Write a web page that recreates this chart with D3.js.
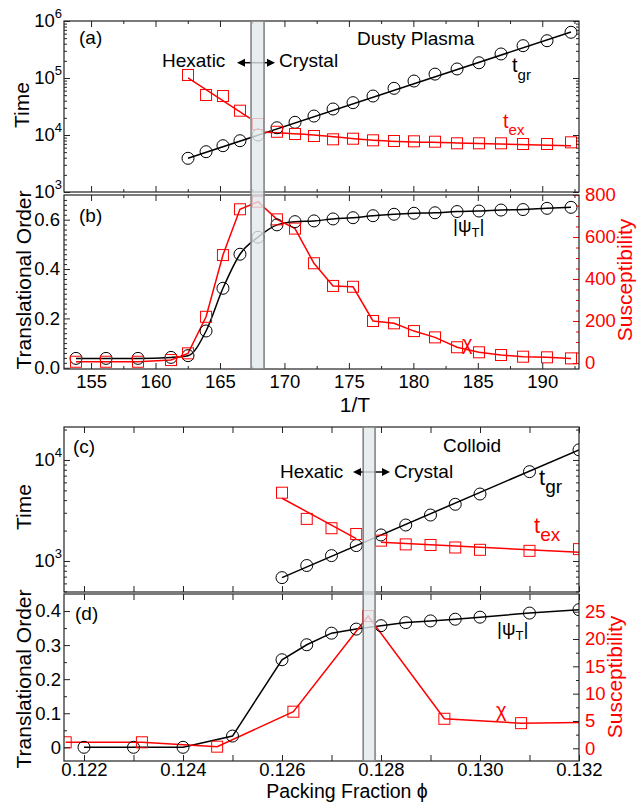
<!DOCTYPE html>
<html><head><meta charset="utf-8">
<script src="https://cdn.jsdelivr.net/npm/d3@7"></script>
<style>
body{margin:0;background:#fff}
svg text{font-family:"Liberation Sans",Arial,Helvetica,sans-serif}
</style>
</head><body>
<svg id="chart" width="638" height="802"></svg>
<script>
// ---------------- DATA ----------------
// Dusty plasma: inverse temperature
const invT = [153.83,156.16,158.64,161.2,162.52,163.92,165.23,166.55,167.95,169.42,170.82,172.29,
              173.77,175.32,176.87,178.5,180.05,181.68,183.39,185.09,186.8,188.51,190.37,192.23];
const invTA = invT.slice(4);
const tgrA = [3900,5090,6490,7940,10000,13400,16700,21500,28600,36900,48300,65900,88500,117000,
              144000,185000,264000,369000,451000,634000];
const texA = [113000,50300,48300,26700,15600,11400,10400,9600,8400,8610,8070,7850,7750,7630,
              7150,7150,7150,6950,6950,7440];
const psiB = [0.038,0.038,0.038,0.042,0.049,0.149,0.322,0.46,0.529,0.579,0.592,0.595,0.603,0.608,
              0.616,0.622,0.626,0.628,0.633,0.635,0.639,0.641,0.646,0.65];
const chiB = [6,6,6,14,46,220,514,732,768,684,640,475,367,363,200,189,152,122,75,51,38,30,27,22];
// fit curves
const tgrFitAx = [162.52,192.23], tgrFitAy = [3900,640000];
const texHexFitAx = [162.52,167.33], texHexFitAy = [101000,19600];
const texCryFitAx = [168.42,172.29,176.87,183.39,192.23], texCryFitAy = [11140,10000,8090,7260,6490];
const bandAB = [167.41,168.42];

// Colloid: packing fraction
const phiC = [0.126,0.1265,0.127,0.1275,0.128,0.1285,0.129,0.1295,0.130,0.131,0.132];
const tgrC = [684,902,1130,1420,1810,2270,2850,3640,4600,7660,12600];
const texC = [4740,2610,2110,1850,1590,1460,1440,1360,1290,1260,1310];
const tgrFitCx = [0.126,0.132], tgrFitCy = [684,12600];
const texHexFitCx = [0.126,0.1275], texHexFitCy = [4180,1667];
const texCryFitCx = [0.128,0.132], texCryFitCy = [1531,1219];
const phiD = [0.122,0.123,0.124,0.125,0.126,0.1265,0.127,0.1275,0.128,0.1285,0.129,0.1295,0.130,0.131,0.132];
const psiD = [0,0,0,0.033,0.257,0.301,0.335,0.347,0.357,0.366,0.371,0.376,0.382,0.394,0.404];
const chiPhiD = [0.12163,0.12317,0.12469,0.12623,0.12774,0.12928,0.13083,0.1335];
const chiD = [1.1,1.1,0.3,6.7,24.2,5.4,4.6,4.9];
const bandCD = [0.12764,0.12788];

// tick labels
const xTicksAB = [155,160,165,170,175,180,185,190];
const xMinorAB = [157.5,162.5,167.5,172.5,177.5,182.5,187.5,192.5];
const yTicksA = [1e3,1e4,1e5,1e6];
const yTicksB = [0,0.2,0.4,0.6];
const yTicksB2 = [0,200,400,600,800];
const yTicksC = [1e3,1e4];
const xTicksCD = [0.122,0.123,0.124,0.125,0.126,0.127,0.128,0.129,0.130,0.131,0.132];
const xLabelsCD = [0.122,0.124,0.126,0.128,0.130,0.132];
const yTicksD = [0,0.1,0.2,0.3,0.4];
const yTicksD2 = [0,5,10,15,20,25];

// ---------------- LAYOUT ----------------
const L = 64, R = 579;
const pA = {t:21,b:192}, pB = {t:195,b:369}, pC = {t:427,b:592}, pD = {t:594,b:761};
const RED = "#ff0000", FS = 18.5;

const svg = d3.select("#chart");
svg.append("rect").attr("width",638).attr("height",802).attr("fill","#fff");

const xAB = d3.scaleLinear().domain([152.9,192.85]).range([L,R]);
const yA = d3.scaleLog().domain([1e3,1e6]).range([pA.b,pA.t]);
const yB = d3.scaleLinear().domain([-0.005,0.7]).range([pB.b,pB.t]);
const yB2 = d3.scaleLinear().domain([0,800]).range([363,195]);
const xCD = d3.scaleLinear().domain([0.121596,0.132]).range([L,R]);
const yC = d3.scaleLog().domain([493,21200]).range([pC.b,pC.t]);
const yD = d3.scaleLinear().domain([-0.0402,0.45]).range([pD.b,pD.t]);
const yD2 = d3.scaleLinear().domain([0,25]).range([748.3,611.7]);

const defs = svg.append("defs");
[["cA",pA],["cB",pB],["cC",pC],["cD",pD]].forEach(([id,p])=>{
  defs.append("clipPath").attr("id",id).append("rect")
    .attr("x",L).attr("y",p.t-8).attr("width",R-L).attr("height",p.b-p.t+16);
});

function logMinor(dom){
  const out=[];
  for(let k=Math.floor(Math.log10(dom[0]));k<=Math.ceil(Math.log10(dom[1]));k++)
    for(let m=2;m<=9;m++){const v=m*Math.pow(10,k); if(v>=dom[0]&&v<=dom[1]) out.push(v);}
  return out;
}
function range(a,b,s){const o=[];for(let v=a;v<=b+1e-9;v+=s)o.push(+v.toFixed(6));return o;}

function ticks(axisFn, scale, vals, size, y0, x0, color){
  const g = svg.append("g").attr("transform",`translate(${x0||0},${y0||0})`)
    .call(axisFn(scale).tickValues(vals).tickSize(-size).tickFormat(""));
  g.select(".domain").remove();
  g.selectAll("line").attr("stroke",color||"#222").attr("stroke-width",1);
  return g;
}
function labels(axisFn, scale, vals, fmt, y0, x0, pad, color){
  const g = svg.append("g").attr("transform",`translate(${x0||0},${y0||0})`)
    .call(axisFn(scale).tickValues(vals).tickSize(0).tickPadding(pad).tickFormat(fmt));
  g.select(".domain").remove();
  g.selectAll("text").attr("font-size",FS).attr("fill",color||"#000")
    .style("font-family",'"Liberation Sans",Arial,sans-serif');
  return g;
}
function frame(p){
  svg.append("rect").attr("x",L).attr("y",p.t).attr("width",R-L).attr("height",p.b-p.t)
    .attr("fill","none").attr("stroke","#222").attr("stroke-width",1.2);
}
function logLabels(scale, vals){
  vals.forEach(v=>{
    const t = svg.append("text").attr("x",62).attr("y",scale(v)).attr("dy","0.35em")
      .attr("text-anchor","end").attr("font-size",FS);
    t.append("tspan").text("10");
    t.append("tspan").attr("font-size",13).attr("dy",-9).text(Math.round(Math.log10(v)));
  });
}
function circles(g, xs, ys, xs_, ys_){
  g.selectAll(null).data(xs.map((x,i)=>[x,ys[i]])).enter().append("circle")
    .attr("cx",d=>xs_(d[0])).attr("cy",d=>ys_(d[1])).attr("r",6)
    .attr("fill","none").attr("stroke","#000").attr("stroke-width",1);
}
function squares(g, xs, ys, xs_, ys_){
  g.selectAll(null).data(xs.map((x,i)=>[x,ys[i]]).filter(d=>d[0]<=xs_.domain()[1]))
    .enter().append("rect")
    .attr("x",d=>xs_(d[0])-5.5).attr("y",d=>ys_(d[1])-5.5).attr("width",11).attr("height",11)
    .attr("fill","none").attr("stroke",RED).attr("stroke-width",1);
}
function line(g, xs, ys, xs_, ys_, color, curve){
  const ln = d3.line().x(d=>xs_(d[0])).y(d=>ys_(d[1])).curve(curve||d3.curveLinear);
  g.append("path").attr("d",ln(xs.map((x,i)=>[x,ys[i]])))
    .attr("fill","none").attr("stroke",color).attr("stroke-width",1.5);
}

// ---------------- PANEL A ----------------
const gA = svg.append("g").attr("clip-path","url(#cA)");
line(gA, tgrFitAx, tgrFitAy, xAB, yA, "#000");
line(gA, texHexFitAx, texHexFitAy, xAB, yA, RED);
line(gA, texCryFitAx, texCryFitAy, xAB, yA, RED, d3.curveMonotoneX);
circles(gA, invTA, tgrA, xAB, yA);
squares(gA, invTA, texA, xAB, yA);

// ---------------- PANEL B ----------------
const gB = svg.append("g").attr("clip-path","url(#cB)");
line(gB, invT, psiB, xAB, yB, "#000", d3.curveMonotoneX);
line(gB, invT, chiB, xAB, yB2, RED);
circles(gB, invT, psiB, xAB, yB);
squares(gB, invT, chiB, xAB, yB2);

// ---------------- PANEL C ----------------
const gC = svg.append("g").attr("clip-path","url(#cC)");
line(gC, tgrFitCx, tgrFitCy, xCD, yC, "#000");
line(gC, texHexFitCx, texHexFitCy, xCD, yC, RED);
line(gC, texCryFitCx, texCryFitCy, xCD, yC, RED);
circles(gC, phiC, tgrC, xCD, yC);
squares(gC, phiC, texC, xCD, yC);

// ---------------- PANEL D ----------------
const gD = svg.append("g").attr("clip-path","url(#cD)");
line(gD, phiD, psiD, xCD, yD, "#000");
line(gD, chiPhiD, chiD, xCD, yD2, RED);
circles(gD, phiD, psiD, xCD, yD);
squares(gD, chiPhiD, chiD, xCD, yD2);

// arrows (drawn before band so band overlays them)
function dblArrow(x1,x2,y){
  svg.append("line").attr("x1",x1+5).attr("x2",x2-5).attr("y1",y).attr("y2",y)
    .attr("stroke","#000").attr("stroke-width",1.5);
  svg.append("path").attr("d",`M${x1},${y}L${x1+8},${y-4}L${x1+8},${y+4}Z`).attr("fill","#000");
  svg.append("path").attr("d",`M${x2},${y}L${x2-8},${y-4}L${x2-8},${y+4}Z`).attr("fill","#000");
}
dblArrow(237,275,62.7);
dblArrow(353,390,472);

// ---------------- AXES ----------------
[pA,pB].forEach(p=>{
  ticks(d3.axisBottom, xAB, xTicksAB, 6, p.b);
  ticks(d3.axisBottom, xAB, xMinorAB, 3, p.b);
  ticks(d3.axisTop, xAB, xTicksAB, 6, p.t);
  ticks(d3.axisTop, xAB, xMinorAB, 3, p.t);
});
labels(d3.axisBottom, xAB, xTicksAB, d3.format("d"), pB.b, 0, 6);

// A y
ticks(d3.axisLeft, yA, yTicksA, 6, 0, L);
ticks(d3.axisLeft, yA, logMinor([1e3,1e6]), 3, 0, L);
ticks(d3.axisRight, yA, yTicksA, 6, 0, R);
ticks(d3.axisRight, yA, logMinor([1e3,1e6]), 3, 0, R);
logLabels(yA, yTicksA);

// B y
ticks(d3.axisLeft, yB, yTicksB, 6, 0, L);
ticks(d3.axisLeft, yB, range(0,0.68,0.02).filter(v=>Math.abs(v*5-Math.round(v*5))>1e-6), 3, 0, L);
labels(d3.axisLeft, yB, yTicksB, d3.format(".1f"), 0, L, 4);
ticks(d3.axisRight, yB2, yTicksB2, 6, 0, R, RED);
ticks(d3.axisRight, yB2, range(50,750,50).filter(v=>v%200!==0), 3, 0, R, RED);
labels(d3.axisRight, yB2, yTicksB2, d3.format("d"), 0, R, 6, RED);

// C/D x
[pC,pD].forEach(p=>{
  ticks(d3.axisBottom, xCD, xTicksCD, 6, p.b);
  ticks(d3.axisTop, xCD, xTicksCD, 6, p.t);
});
labels(d3.axisBottom, xCD, xLabelsCD, d3.format(".3f"), pD.b, 0, 1.5);

// C y
ticks(d3.axisLeft, yC, yTicksC, 6, 0, L);
ticks(d3.axisLeft, yC, logMinor([493,21200]), 3, 0, L);
ticks(d3.axisRight, yC, yTicksC, 6, 0, R);
ticks(d3.axisRight, yC, logMinor([493,21200]), 3, 0, R);
logLabels(yC, yTicksC);

// D y
ticks(d3.axisLeft, yD, yTicksD, 6, 0, L);
ticks(d3.axisLeft, yD, [0.05,0.15,0.25,0.35], 3, 0, L);
labels(d3.axisLeft, yD, yTicksD, v=>v===0?"0":d3.format(".1f")(v), 0, L, 3);
ticks(d3.axisRight, yD2, yTicksD2, 6, 0, R);
ticks(d3.axisRight, yD2, [2.5,7.5,12.5,17.5,22.5], 3, 0, R);
labels(d3.axisRight, yD2, yTicksD2, d3.format("d"), 0, R, 6, RED);

[pA,pB,pC,pD].forEach(frame);

// ---------------- BANDS ----------------
function band(xs, b, top, bot){
  svg.append("rect").attr("x",xs(b[0])).attr("y",top).attr("width",xs(b[1])-xs(b[0]))
    .attr("height",bot-top).attr("fill","#e2e8ec").attr("fill-opacity",0.8)
    .attr("stroke","#7d7d7d").attr("stroke-width",1.5);
}
band(xAB, bandAB, pA.t, pB.b);
band(xCD, bandCD, pC.t, pD.b);

// ---------------- TEXT ----------------
function txt(x,y,s,o){
  o=o||{};
  const t = svg.append("text").attr("x",x).attr("y",y).attr("font-size",o.fs||19)
    .attr("fill",o.color||"#000").attr("text-anchor",o.anchor||"start").text(s);
  if(o.rot) t.attr("x",null).attr("y",null).attr("transform",`translate(${x},${y}) rotate(-90)`);
  return t;
}
function sub(x,y,main,s,o){
  const t = svg.append("text").attr("x",x).attr("y",y).attr("font-size",o.fs)
    .attr("fill",o.color||"#000");
  t.append("tspan").text(main);
  t.append("tspan").attr("font-size",o.sfs).attr("dy",o.dy).text(s);
  return t;
}
txt(79,44,"(a)");
txt(162,67,"Hexatic");
txt(279,67,"Crystal");
txt(357,45,"Dusty Plasma");
sub(512,72,"t","gr",{fs:20,sfs:15,dy:8});
sub(503,128,"t","ex",{fs:20,sfs:15,dy:7,color:RED});
txt(79,222,"(b)");
const psiT1 = svg.append("text").attr("x",453).attr("y",232).attr("font-size",19);
psiT1.append("tspan").text("|ψ");
psiT1.append("tspan").attr("font-size",13).attr("dy",5).text("T");
psiT1.append("tspan").attr("dy",-5).text("|");
txt(462,350,"χ",{color:RED,fs:20});
txt(29,105,"Time",{rot:true,anchor:"middle",fs:21});
txt(31,280,"Translational Order",{rot:true,anchor:"middle",fs:21});
txt(632,280,"Susceptibility",{rot:true,anchor:"middle",fs:21,color:RED});
txt(355,412,"1/T",{anchor:"middle",fs:21});

txt(73,453,"(c)");
txt(280,478,"Hexatic");
txt(394,478,"Crystal");
txt(443,452,"Colloid");
sub(539,485,"t","gr",{fs:22,sfs:19,dy:8});
sub(534,533,"t","ex",{fs:22,sfs:19,dy:8,color:RED});
txt(75,620,"(d)");
const psiT2 = svg.append("text").attr("x",497).attr("y",635).attr("font-size",19);
psiT2.append("tspan").text("|ψ");
psiT2.append("tspan").attr("font-size",13).attr("dy",5).text("T");
psiT2.append("tspan").attr("dy",-5).text("|");
txt(496,717,"χ",{color:RED,fs:20});
txt(31,507,"Time",{rot:true,anchor:"middle",fs:21});
txt(31,679,"Translational Order",{rot:true,anchor:"middle",fs:21});
txt(622,677,"Susceptibility",{rot:true,anchor:"middle",fs:21,color:RED});
txt(347,797.5,"Packing Fraction ϕ",{anchor:"middle",fs:19.5});
</script>
</body></html>
